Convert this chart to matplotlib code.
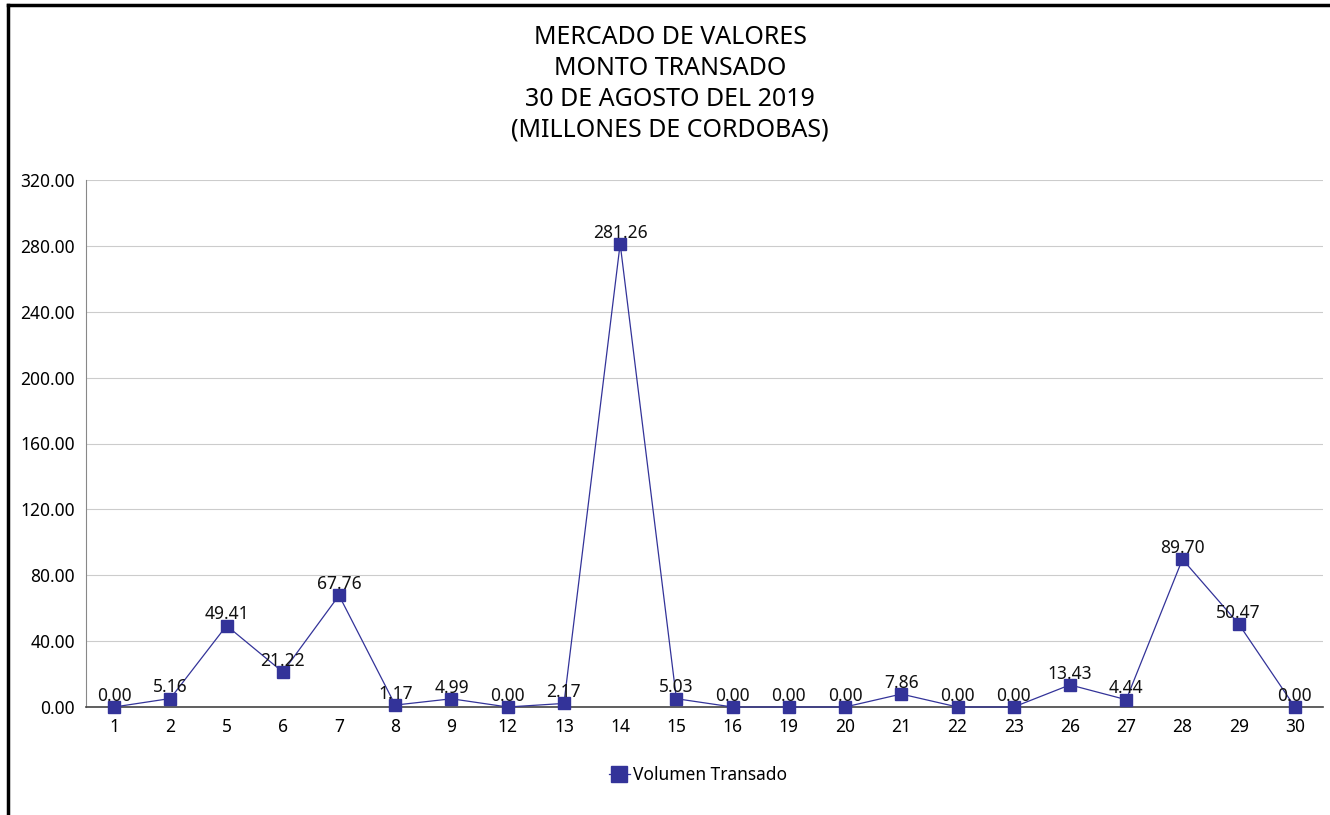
import numpy as np
import matplotlib.pyplot as plt
from matplotlib.lines import Line2D

dias = ['1', '2', '5', '6', '7', '8', '9', '12', '13', '14', '15', '16',
        '19', '20', '21', '22', '23', '26', '27', '28', '29', '30']
montos = [0.00, 5.16, 49.41, 21.22, 67.76, 1.17, 4.99, 0.00, 2.17, 281.26,
          5.03, 0.00, 0.00, 0.00, 7.86, 0.00, 0.00, 13.43, 4.44, 89.70,
          50.47, 0.00]
titulo = 'MERCADO DE VALORES\nMONTO TRANSADO\n30 DE AGOSTO DEL 2019\n(MILLONES DE CORDOBAS)'
serie = 'Volumen Transado'

color = '#333399'
plt.rcParams['font.family'] = ['Noto Sans', 'DejaVu Sans']

fig = plt.figure(figsize=(13.3, 8.15), dpi=100)
ax = fig.add_axes([86 / 1330, 1 - 707 / 815, (1323 - 86) / 1330, (707 - 180) / 815])

x = np.arange(len(dias))
ax.plot(x, montos, color=color, lw=0.9, marker='s', markersize=8,
        markeredgecolor=color, markerfacecolor=color, zorder=3, clip_on=False)
for xi, v in zip(x, montos):
    ax.annotate('%.2f' % v, (xi, v), xytext=(0, 4.5), textcoords='offset points',
                ha='center', va='baseline', fontsize=12.5, color='#111111')

ax.set_xlim(-0.5, len(dias) - 0.5)
ax.set_ylim(0, 320)
ax.set_yticks(np.arange(0, 321, 40))
ax.set_yticklabels(['%.2f' % t for t in np.arange(0, 321, 40)], fontsize=12.5)
ax.set_xticks(x)
ax.set_xticklabels(dias, fontsize=12.5)
ax.tick_params(axis='y', length=0, pad=8)
ax.tick_params(axis='x', length=0, pad=8)
ax.grid(axis='y', color='#cccccc', lw=0.8)
ax.set_axisbelow(True)
for s in ['top', 'right']:
    ax.spines[s].set_visible(False)
ax.spines['left'].set_color('#888888')
ax.spines['bottom'].set_color('#444444')
ax.spines['bottom'].set_linewidth(1.2)

fig.text(670 / 1330, 1 - 25 / 815, titulo, ha='center', va='top', fontsize=18,
         linespacing=1.31)

handle = Line2D([], [], color=color, lw=0.9, marker='s', markersize=11,
                markerfacecolor=color, markeredgecolor=color)
fig.legend([handle], [serie], loc='center', bbox_to_anchor=(698 / 1330, 1 - 775 / 815),
           frameon=False, fontsize=12.5, handlelength=1.2, handletextpad=0.2)

# marco exterior (izquierda y arriba)
fig.add_artist(Line2D([8 / 1330, 8 / 1330], [0, 1 - 5 / 815], color='black', lw=2.5))
fig.add_artist(Line2D([8 / 1330, 1], [1 - 5 / 815, 1 - 5 / 815], color='black', lw=2.5))

fig.savefig('out.png', dpi=100)
